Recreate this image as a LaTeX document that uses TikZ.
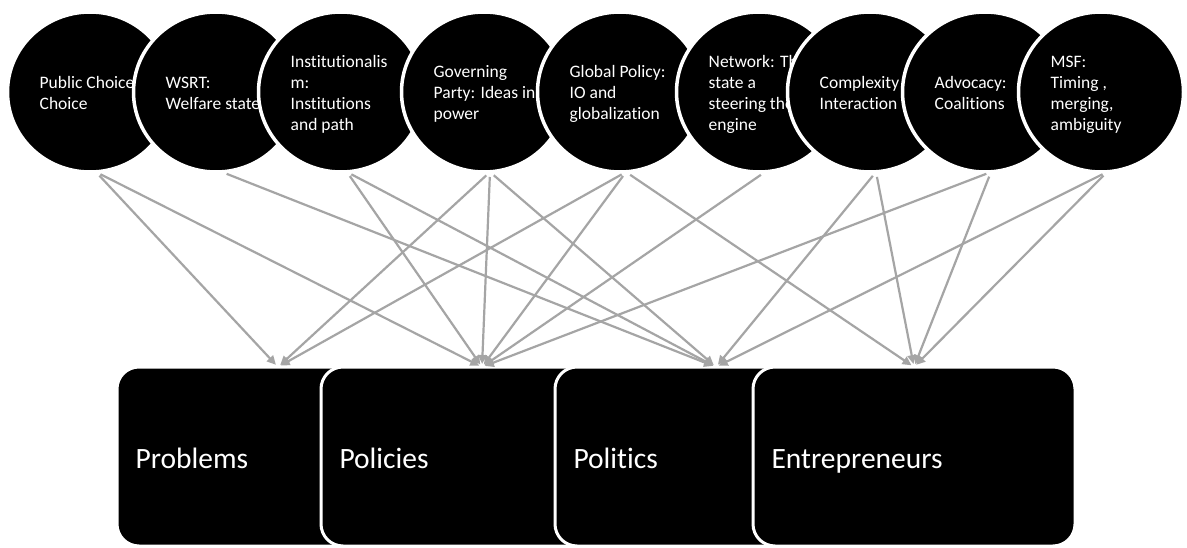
\documentclass[tikz,border=0pt]{standalone}
\usepackage{fontspec}
\setmainfont{Carlito}[Ligatures=NoCommon]
\usetikzlibrary{positioning,arrows.meta,shapes.geometric}
\definecolor{linkgray}{HTML}{A5A5A5}
\tikzset{
  theory/.style = {ellipse, fill=black, draw=white, line width=3.5pt,
                   minimum width=165pt, minimum height=160pt, inner sep=0pt, outer sep=0pt},
  thtext/.style = {anchor=west, align=left, inner sep=0pt, text=white,
                   font=\fontsize{17.5}{21}\selectfont,
                   execute at begin node=\strut, execute at end node=\strut},
  stream/.style = {rectangle, rounded corners=22pt, fill=black, draw=white, line width=3pt,
                   minimum width=322pt, minimum height=179pt, inner xsep=18.5pt, outer sep=0pt,
                   text width=285pt, align=left, text=white, text height=24pt, text depth=0pt,
                   font=\fontsize{29.5}{35}\selectfont},
  link/.style   = {-{Triangle[length=9pt,width=8.5pt]}, draw=linkgray, line width=2.2pt,
                   shorten <=5pt, shorten >=3pt},
}

\begin{document}
\begin{tikzpicture}[x=1pt, y=-1pt]
  \path[use as bounding box, fill=white] (0,0) rectangle (1187,548);

  % theories, each one laid over the one before it
  \node[theory] (pubchoice) at (90,92) {};
  \node[thtext] (pubtxt) at ([xshift=32pt,yshift=-4pt]pubchoice.west) {Public Choice\\Choice};
  \node[theory, right=-39pt of pubchoice] (wsrt) {};
  \node[thtext] (wsrttxt) at ([xshift=32pt,yshift=-4pt]wsrt.west) {WSRT:\\Welfare state};
  \node[theory, right=-40pt of wsrt] (instit) {};
  \node[thtext] (institxt) at ([xshift=32pt,yshift=-4pt]instit.west) {Institutionalis\\m:\\Institutions\\and path};
  \node[theory, right=-22pt of instit] (govparty) {};
  \node[thtext] (govtxt) at ([xshift=32pt,yshift=-4pt]govparty.west) {Governing\\Party: Ideas in\\power};
  \node[theory, right=-29pt of govparty] (globalpol) {};
  \node[thtext] (globaltxt) at ([xshift=32pt,yshift=-4pt]globalpol.west) {Global Policy:\\IO and\\globalization};
  \node[theory, right=-26pt of globalpol] (network) {};
  \node[thtext] (networktxt) at ([xshift=32pt,yshift=-4pt]network.west) {Network: The\\state a\\steering the\\engine};
  \node[theory, right=-54pt of network] (complexity) {};
  \node[thtext] (complextxt) at ([xshift=32pt,yshift=-4pt]complexity.west) {Complexity\\Interaction};
  \node[theory, right=-50pt of complexity] (advocacy) {};
  \node[thtext] (advocacytxt) at ([xshift=32pt,yshift=-4pt]advocacy.west) {Advocacy:\\Coalitions};
  \node[theory, right=-49pt of advocacy] (msf) {};
  \node[thtext] (msftxt) at ([xshift=32pt,yshift=-4pt]msf.west) {MSF:\\Timing ,\\merging,\\ambiguity};

  % the four streams
  \node[stream] (problems) at (278,456.5) {Problems};
  \node[stream, right=-118pt of problems] (policies) {Policies};
  \node[stream, right=-88pt of policies] (politics) {Politics};
  \node[stream, right=-124pt of politics] (entre) {Entrepreneurs};

  \draw[link] ([xshift=6pt]pubchoice.south) -- (problems.north);
  \draw[link] ([xshift=6pt]pubchoice.south) -- (policies.north);
  \draw[link] ([xshift=6pt]wsrt.south) -- (politics.north);
  \draw[link] ([xshift=6pt]instit.south) -- (policies.north);
  \draw[link] ([xshift=6pt]instit.south) -- (politics.north);
  \draw[link] ([xshift=6pt]govparty.south) -- (problems.north);
  \draw[link] ([xshift=6pt]govparty.south) -- (policies.north);
  \draw[link] ([xshift=6pt]govparty.south) -- (politics.north);
  \draw[link] ([xshift=6pt]globalpol.south) -- (problems.north);
  \draw[link] ([xshift=6pt]globalpol.south) -- (policies.north);
  \draw[link] ([xshift=6pt]globalpol.south) -- (entre.north);
  \draw[link] ([xshift=6pt]network.south) -- (policies.north);
  \draw[link] ([xshift=6pt]complexity.south) -- (politics.north);
  \draw[link] ([xshift=6pt]complexity.south) -- (entre.north);
  \draw[link] ([xshift=6pt]advocacy.south) -- (policies.north);
  \draw[link] ([xshift=6pt]advocacy.south) -- (entre.north);
  \draw[link] ([xshift=6pt]msf.south) -- (politics.north);
  \draw[link] ([xshift=6pt]msf.south) -- (entre.north);
\end{tikzpicture}
\end{document}
